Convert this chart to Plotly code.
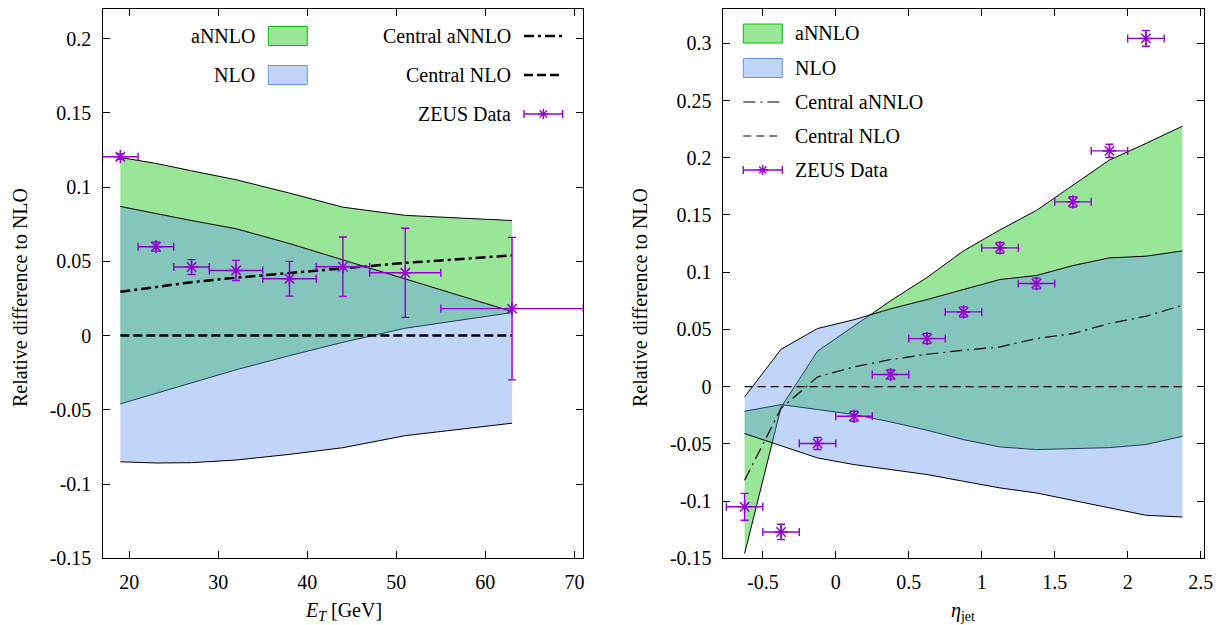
import plotly.graph_objects as go

W, H = 1219, 625
FONT = "Liberation Serif, Times New Roman, serif"

# ---------------- Left panel: E_T ----------------
et = [19, 23, 27, 32, 38, 44, 51, 63]
et_annlo_up = [0.120, 0.116, 0.111, 0.105, 0.096, 0.0865, 0.081, 0.0775]
et_annlo_lo = [-0.046, -0.039, -0.032, -0.023, -0.0135, -0.0045, 0.005, 0.0155]
et_nlo_up = [0.087, 0.082, 0.0775, 0.072, 0.062, 0.051, 0.038, 0.0162]
et_nlo_lo = [-0.085, -0.0858, -0.0856, -0.0838, -0.080, -0.0755, -0.0674, -0.059]
et_annlo_c = [0.0295, 0.033, 0.036, 0.039, 0.042, 0.0455, 0.049, 0.054]
et_nlo_c = [0, 0, 0, 0, 0, 0, 0, 0]

zeus_et = [19, 23, 27, 32, 38, 44, 51, 63]
zeus_et_lo = [17, 21, 25, 29, 35, 41, 47, 55]
zeus_et_hi = [21, 25, 29, 35, 41, 47, 55, 71]
zeus_et_y = [0.1205, 0.0599, 0.0462, 0.0439, 0.0383, 0.0464, 0.0423, 0.0182]
zeus_et_err = [0.0018, 0.003, 0.005, 0.0068, 0.0117, 0.020, 0.030, 0.048]

# ---------------- Right panel: eta_jet ----------------
eta = [-0.625, -0.375, -0.125, 0.125, 0.375, 0.625, 0.875, 1.125, 1.375, 1.625, 1.875, 2.125, 2.375]
eta_annlo_a = [-0.0215, -0.0157, -0.020, -0.0244, -0.0308, -0.0381, -0.0463, -0.0527, -0.055, -0.0541, -0.0533, -0.0506, -0.0434]
eta_annlo_b = [-0.146, -0.018, 0.031, 0.053, 0.075, 0.0954, 0.1186, 0.137, 0.154, 0.176, 0.198, 0.2125, 0.2276]
eta_nlo_up = [-0.009, 0.0327, 0.0508, 0.0585, 0.068, 0.0761, 0.0849, 0.0936, 0.0971, 0.1058, 0.1125, 0.114, 0.1186]
eta_nlo_lo = [-0.041, -0.0518, -0.0623, -0.0681, -0.0725, -0.0768, -0.0827, -0.0885, -0.0929, -0.0993, -0.1057, -0.1124, -0.1139]
eta_annlo_c = [-0.0818, -0.019, 0.0085, 0.0172, 0.0237, 0.0283, 0.0318, 0.0347, 0.042, 0.0464, 0.0552, 0.0615, 0.0711]
eta_nlo_c = [0] * 13

zeus_eta = [-0.625, -0.375, -0.125, 0.125, 0.375, 0.625, 0.875, 1.125, 1.375, 1.625, 1.875, 2.125]
zeus_eta_lo = [-0.75, -0.5, -0.25, 0.0, 0.25, 0.5, 0.75, 1.0, 1.25, 1.5, 1.75, 2.0]
zeus_eta_hi = [-0.5, -0.25, 0.0, 0.25, 0.5, 0.75, 1.0, 1.25, 1.5, 1.75, 2.0, 2.25]
zeus_eta_y = [-0.105, -0.127, -0.0497, -0.0259, 0.0106, 0.042, 0.0653, 0.1213, 0.0901, 0.1615, 0.206, 0.3043]
zeus_eta_err = [0.0117, 0.0067, 0.0052, 0.0044, 0.004, 0.0044, 0.0044, 0.0047, 0.0047, 0.0045, 0.0058, 0.0068]

left_xticks = [20, 30, 40, 50, 60, 70]
left_yticks = [-0.15, -0.1, -0.05, 0, 0.05, 0.1, 0.15, 0.2]
left_ytext = ["-0.15", "-0.1", "-0.05", "0", "0.05", "0.1", "0.15", "0.2"]
right_xticks = [-0.5, 0, 0.5, 1, 1.5, 2, 2.5]
right_xtext = ["-0.5", "0", "0.5", "1", "1.5", "2", "2.5"]
right_yticks = [-0.15, -0.1, -0.05, 0, 0.05, 0.1, 0.15, 0.2, 0.25, 0.3]
right_ytext = ["-0.15", "-0.1", "-0.05", "0", "0.05", "0.1", "0.15", "0.2", "0.25", "0.3"]

GREEN_FILL = "rgba(0,192,0,0.4)"
BLUE_FILL = "rgba(100,149,237,0.4)"
VIOLET = "#9400d3"

fig = go.Figure()


def band(x, up, lo, color, xa, ya):
    fig.add_trace(go.Scatter(x=list(x) + list(x)[::-1], y=list(up) + list(lo)[::-1],
                             mode="lines", fill="toself", fillcolor=color,
                             line=dict(width=0), xaxis=xa, yaxis=ya, hoverinfo="skip"))
    for edge in (up, lo):
        fig.add_trace(go.Scatter(x=x, y=edge, mode="lines",
                                 line=dict(color="black", width=1), xaxis=xa, yaxis=ya,
                                 hoverinfo="skip"))


def line(x, y, dash, width, xa, ya):
    fig.add_trace(go.Scatter(x=x, y=y, mode="lines",
                             line=dict(color="black", width=width, dash=dash),
                             xaxis=xa, yaxis=ya))


def data(x, y, err, lo, hi, xa, ya):
    fig.add_trace(go.Scatter(
        x=x, y=y, mode="markers", xaxis=xa, yaxis=ya,
        marker=dict(symbol="asterisk-open", size=11, color=VIOLET, line=dict(color=VIOLET, width=1.5)),
        error_y=dict(type="data", array=err, color=VIOLET, thickness=1.4, width=4),
        error_x=dict(type="data", symmetric=False,
                     array=[h - v for h, v in zip(hi, x)],
                     arrayminus=[v - l for v, l in zip(x, lo)],
                     color=VIOLET, thickness=1.4, width=4)))


# Left panel
band(et, et_annlo_up, et_annlo_lo, GREEN_FILL, "x", "y")
band(et, et_nlo_up, et_nlo_lo, BLUE_FILL, "x", "y")
line(et, et_annlo_c, "10px,4px,3px,4px", 2.5, "x", "y")
line(et, et_nlo_c, "9px,4px", 2.5, "x", "y")
data(zeus_et, zeus_et_y, zeus_et_err, zeus_et_lo, zeus_et_hi, "x", "y")

# Right panel
band(eta, eta_annlo_a, eta_annlo_b, GREEN_FILL, "x2", "y2")
band(eta, eta_nlo_up, eta_nlo_lo, BLUE_FILL, "x2", "y2")
line(eta, eta_annlo_c, "12px,5px,2px,5px", 1.2, "x2", "y2")
line(eta, eta_nlo_c, "8px,5px", 1.2, "x2", "y2")
data(zeus_eta, zeus_eta_y, zeus_eta_err, zeus_eta_lo, zeus_eta_hi, "x2", "y2")

axis_common = dict(showline=True, linecolor="black", linewidth=1.3, mirror="ticks",
                   ticks="inside", ticklen=7, tickwidth=1.2, tickcolor="black",
                   showgrid=False, zeroline=False, automargin=False,
                   tickfont=dict(family=FONT, size=20, color="black"))

ydom = [(H - 558.3) / H, (H - 9) / H]
fig.update_layout(
    width=W, height=H, margin=dict(l=0, r=0, t=0, b=0),
    font=dict(family=FONT, size=20, color="black"),
    paper_bgcolor="white", plot_bgcolor="white", showlegend=False,
    xaxis=dict(domain=[102.5 / W, 583.3 / W], range=[17, 71], tickvals=left_xticks,
               anchor="y", ticklabelstandoff=6, **axis_common),
    yaxis=dict(domain=ydom, range=[-0.15, 0.22], tickvals=left_yticks, ticktext=left_ytext,
               anchor="x", ticklabelstandoff=6, **axis_common),
    xaxis2=dict(domain=[722.7 / W, 1204.3 / W], range=[-0.775, 2.525], tickvals=right_xticks,
                ticktext=right_xtext, anchor="y2", ticklabelstandoff=6, **axis_common),
    yaxis2=dict(domain=ydom, range=[-0.15, 0.33], tickvals=right_yticks, ticktext=right_ytext,
                anchor="x2", ticklabelstandoff=6, **axis_common),
)


def X(px):
    return px / W


def Y(py):
    return 1 - py / H


shapes = []
annotations = []


def text(s, px, py, anchor, angle=0):
    annotations.append(dict(text=s, x=X(px), y=Y(py), xref="paper", yref="paper",
                            xanchor=anchor, yanchor="middle", showarrow=False, textangle=angle,
                            font=dict(family=FONT, size=20, color="black")))


def rect(x0, x1, yc, fill, border):
    shapes.append(dict(type="rect", xref="paper", yref="paper", x0=X(x0), x1=X(x1),
                       y0=Y(yc + 9.5), y1=Y(yc - 9.5), fillcolor=fill,
                       line=dict(color=border, width=1)))


def seg(x0, y0, x1, y1, color="black", width=1, dash="solid"):
    shapes.append(dict(type="line", xref="paper", yref="paper", x0=X(x0), y0=Y(y0),
                       x1=X(x1), y1=Y(y1), line=dict(color=color, width=width, dash=dash)))


def zeus_sample(x0, x1, yc):
    seg(x0, yc, x1, yc, VIOLET, 1.4)
    seg(x0, yc - 4, x0, yc + 4, VIOLET, 1.4)
    seg(x1, yc - 4, x1, yc + 4, VIOLET, 1.4)
    xc = (x0 + x1) / 2
    seg(xc - 5, yc, xc + 5, yc, VIOLET, 1.4)
    seg(xc, yc - 5, xc, yc + 5, VIOLET, 1.4)
    seg(xc - 3.6, yc - 3.6, xc + 3.6, yc + 3.6, VIOLET, 1.4)
    seg(xc - 3.6, yc + 3.6, xc + 3.6, yc - 3.6, VIOLET, 1.4)


# Left legend
text("aNNLO", 257.3, 36, "right")
rect(268.3, 307.3, 36, GREEN_FILL, "#00c000")
text("NLO", 257.3, 75, "right")
rect(268.3, 307.3, 75, BLUE_FILL, "#6495ed")
text("Central aNNLO", 512.7, 36, "right")
seg(524, 36, 562.7, 36, "black", 2.5, "10px,4px,3px,4px")
text("Central NLO", 512.7, 75, "right")
seg(524, 75, 562.7, 75, "black", 2.5, "9px,4px")
text("ZEUS Data", 512.7, 114, "right")
zeus_sample(524, 562.7, 114)

# Right legend
text("aNNLO", 792.7, 33.5, "left")
rect(743.3, 782.3, 33.5, GREEN_FILL, "#00c000")
text("NLO", 792.7, 68, "left")
rect(743.3, 782.3, 68, BLUE_FILL, "#6495ed")
text("Central aNNLO", 792.7, 102, "left")
seg(743.3, 102, 782.3, 102, "black", 1.2, "12px,5px,2px,5px")
text("Central NLO", 792.7, 136, "left")
seg(743.3, 136, 782.3, 136, "black", 1.2, "8px,5px")
text("ZEUS Data", 792.7, 170, "left")
zeus_sample(743.3, 782.3, 170)

# Axis titles
text("<i>E<sub>T</sub></i> [GeV]", 343, 611, "center")
text("<i>η</i><sub>jet</sub>", 963, 611, "center")
text("Relative difference to NLO", 20, 298, "center", -90)
text("Relative difference to NLO", 640, 298, "center", -90)

fig.update_layout(shapes=shapes, annotations=annotations)
fig.write_html("out.html", config={"displayModeBar": False})

# remove the default page margin so the figure sits at the window origin
with open("out.html", "r", encoding="utf-8") as f:
    html = f.read()
html = html.replace("<head>", "<head><style>html,body{margin:0;padding:0;overflow:hidden;}</style>", 1)
with open("out.html", "w", encoding="utf-8") as f:
    f.write(html)
